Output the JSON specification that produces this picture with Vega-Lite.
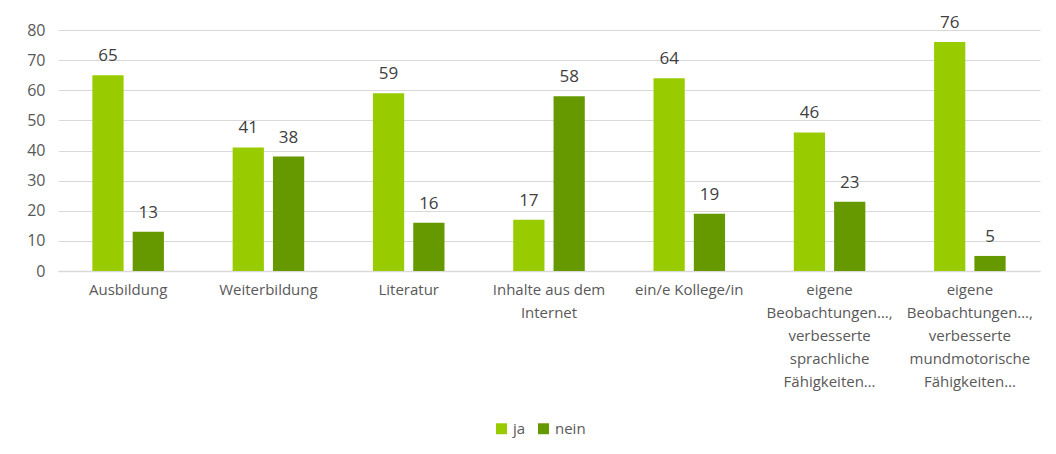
{
  "$schema": "https://vega.github.io/schema/vega-lite/v6.json",
  "autosize": {"type": "none"},
  "width": 982,
  "height": 241,
  "padding": {"left": 58, "top": 30, "right": 16, "bottom": 183},
  "background": "white",
  "data": {
    "values": [
      {"cat": "Ausbildung", "serie": "ja", "wert": 65},
      {"cat": "Ausbildung", "serie": "nein", "wert": 13},
      {"cat": "Weiterbildung", "serie": "ja", "wert": 41},
      {"cat": "Weiterbildung", "serie": "nein", "wert": 38},
      {"cat": "Literatur", "serie": "ja", "wert": 59},
      {"cat": "Literatur", "serie": "nein", "wert": 16},
      {"cat": "Inhalte aus dem|Internet", "serie": "ja", "wert": 17},
      {"cat": "Inhalte aus dem|Internet", "serie": "nein", "wert": 58},
      {"cat": "ein/e Kollege/in", "serie": "ja", "wert": 64},
      {"cat": "ein/e Kollege/in", "serie": "nein", "wert": 19},
      {"cat": "eigene|Beobachtungen…,|verbesserte|sprachliche|Fähigkeiten…", "serie": "ja", "wert": 46},
      {"cat": "eigene|Beobachtungen…,|verbesserte|sprachliche|Fähigkeiten…", "serie": "nein", "wert": 23},
      {"cat": "eigene|Beobachtungen…,|verbesserte|mundmotorische|Fähigkeiten…", "serie": "ja", "wert": 76},
      {"cat": "eigene|Beobachtungen…,|verbesserte|mundmotorische|Fähigkeiten…", "serie": "nein", "wert": 5}
    ]
  },
  "encoding": {
    "x": {
      "field": "cat",
      "type": "nominal",
      "sort": null,
      "scale": {"paddingInner": 0.49, "paddingOuter": 0.245},
      "axis": {
        "title": null,
        "labelAngle": 0,
        "labelExpr": "split(datum.label, '|')",
        "labelFont": "Open Sans",
        "labelFontSize": 15,
        "labelColor": "#595959",
        "labelLineHeight": 23,
        "labelPadding": 11,
        "labelBaseline": "top",
        "ticks": false,
        "domainColor": "#d9d9d9",
        "domainWidth": 1.5
      }
    },
    "xOffset": {
      "field": "serie",
      "type": "nominal",
      "scale": {"paddingInner": 0.225}
    },
    "y": {
      "field": "wert",
      "type": "quantitative",
      "scale": {"domain": [0, 80]},
      "axis": {
        "title": null,
        "values": [0, 10, 20, 30, 40, 50, 60, 70, 80],
        "labelFont": "Open Sans",
        "labelFontSize": 16,
        "labelColor": "#595959",
        "labelPadding": 13,
        "ticks": false,
        "domain": false,
        "gridColor": "#d9d9d9",
        "gridWidth": 1
      }
    }
  },
  "layer": [
    {
      "mark": {"type": "bar"},
      "encoding": {
        "color": {
          "field": "serie",
          "type": "nominal",
          "scale": {"domain": ["ja", "nein"], "range": ["#99cc00", "#669900"]},
          "legend": {
            "title": null,
            "orient": "none",
            "direction": "horizontal",
            "legendX": 436,
            "legendY": 391,
            "symbolType": "square",
            "symbolSize": 120,
            "symbolStrokeWidth": 0,
            "labelFont": "Open Sans",
            "labelFontSize": 15,
            "labelColor": "#595959",
            "columnPadding": 10,
            "labelOffset": 4
          }
        }
      }
    },
    {
      "mark": {
        "type": "text",
        "baseline": "alphabetic",
        "dy": -14,
        "font": "Open Sans",
        "fontSize": 17,
        "color": "#404040"
      },
      "encoding": {
        "text": {"field": "wert", "type": "quantitative"}
      }
    }
  ],
  "config": {
    "view": {"stroke": null}
  }
}
